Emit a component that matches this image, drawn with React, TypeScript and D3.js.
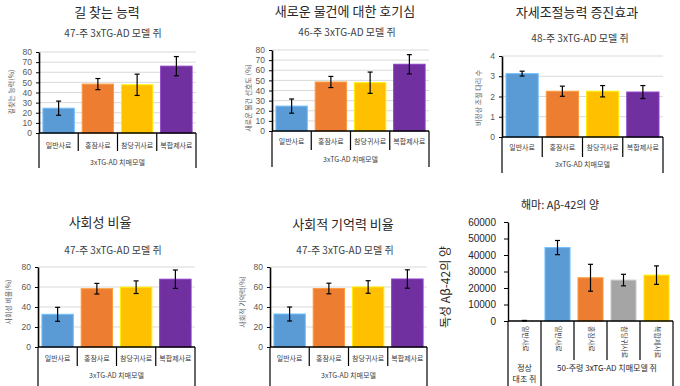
import React, { useEffect, useRef } from 'react';
import * as d3 from 'd3';

// feed groups shared by the behaviour panels
const feedCategories = ['일반사료', '홍잠사료', '참당귀사료', '복합제사료'];
const feedColors = ['#5B9BD5', '#ED7D31', '#FFC000', '#7030A0'];
const modelLabel = '3xTG-AD 치매모델';

const wayfindingValues = [24.5, 48.3, 47.6, 66];
const wayfindingErrors = [7, 5.5, 10.5, 9.5];
const noveltyValues = [24.6, 48.4, 47.7, 65.9];
const noveltyErrors = [7, 5.5, 10.5, 9.5];
const postureValues = [3.13, 2.26, 2.26, 2.22];
const postureErrors = [0.12, 0.25, 0.28, 0.32];
const socialValues = [32.7, 58.3, 59.8, 67.8];
const socialErrors = [7, 5.3, 6.3, 9.2];
const socialMemoryValues = [33, 58.5, 60, 68];
const socialMemoryErrors = [7, 5.3, 6.3, 9.2];

const abetaCategories = ['일반사료', '일반사료', '홍잠사료', '참당귀사료', '복합제사료'];
const abetaValues = [200, 44500, 26200, 24800, 27800];
const abetaErrors = [150, 4300, 8150, 3500, 5600];
const abetaColors = ['#5B9BD5', '#5B9BD5', '#ED7D31', '#A5A5A5', '#FFC000'];

const FONT = '"Noto Sans CJK KR", "Noto Sans", sans-serif';
const NUM_FONT = '"Liberation Sans", Arial, sans-serif';

const panels = [
    {
        title: '길 찾는 능력', titleX: 107, titleY: 13,
        subtitle: '47-주 3xTG-AD 모델 쥐', subX: 113, subY: 34,
        left: 39, right: 196, top: 52, bottom: 133,
        max: 80, ticks: d3.range(0, 81, 10),
        values: wayfindingValues, errors: wayfindingErrors,
        yLabel: '길찾는 능력(%)', yLabelX: 12, yLabelY: 92,
        catY: 146, groupY: 163, innerBottom: 151, outerBottom: 168,
    },
    {
        title: '새로운 물건에 대한 호기심', titleX: 345, titleY: 12,
        subtitle: '46-주 3xTG-AD 모델 쥐', subX: 347, subY: 33,
        left: 272, right: 429, top: 50, bottom: 131,
        max: 80, ticks: d3.range(0, 81, 10),
        values: noveltyValues, errors: noveltyErrors,
        yLabel: '새로운 물건 선호도 (%)', yLabelX: 249, yLabelY: 98,
        catY: 142, groupY: 160, innerBottom: 150, outerBottom: 167,
    },
    {
        title: '자세조절능력 증진효과', titleX: 577, titleY: 13,
        subtitle: '48-주 3xTG-AD 모델 쥐', subX: 580, subY: 39,
        left: 502, right: 663, top: 56, bottom: 137,
        max: 4, ticks: d3.range(0, 5, 1),
        values: postureValues, errors: postureErrors,
        yLabel: '비정상 조절 다리 수', yLabelX: 479, yLabelY: 98,
        catY: 148, groupY: 165, innerBottom: 157, outerBottom: 173,
    },
    {
        title: '사회성 비율', titleX: 100, titleY: 223,
        subtitle: '47-주 3xTG-AD 모델 쥐', subX: 113, subY: 251,
        left: 38, right: 195, top: 267, bottom: 347,
        max: 80, ticks: d3.range(0, 81, 20),
        values: socialValues, errors: socialErrors,
        yLabel: '사회성 비율(%)', yLabelX: 9, yLabelY: 302,
        catY: 359, groupY: 376, innerBottom: 366, outerBottom: 386,
    },
    {
        title: '사회적 기억력 비율', titleX: 343, titleY: 225,
        subtitle: '47-주 3xTG-AD 모델 쥐', subX: 345, subY: 251,
        left: 270, right: 427, top: 267, bottom: 347,
        max: 80, ticks: d3.range(0, 81, 20),
        values: socialMemoryValues, errors: socialMemoryErrors,
        yLabel: '사회적 기억력(%)', yLabelX: 243, yLabelY: 302,
        catY: 359, groupY: 376, innerBottom: 366, outerBottom: 386,
    },
];

function drawBars(g, x, y, cats, values, errors, colors) {
    g.selectAll('.bar')
        .data(values)
        .enter().append('rect')
        .attr('x', (d, i) => x(cats[i] + i))
        .attr('y', d => y(d))
        .attr('width', x.bandwidth())
        .attr('height', d => y(0) - y(d))
        .attr('fill', (d, i) => colors[i])
        .attr('stroke', (d, i) => d3.color(colors[i]).brighter(0.6).formatHex())
        .attr('stroke-width', 1);
    const eb = g.selectAll('.err')
        .data(values)
        .enter().append('g')
        .attr('stroke', '#000')
        .attr('stroke-width', 1.2);
    eb.append('line')
        .attr('x1', (d, i) => x(cats[i] + i) + x.bandwidth() / 2)
        .attr('x2', (d, i) => x(cats[i] + i) + x.bandwidth() / 2)
        .attr('y1', (d, i) => y(d + errors[i]))
        .attr('y2', (d, i) => y(d - errors[i]));
    [1, -1].forEach(s => {
        eb.append('line')
            .attr('x1', (d, i) => x(cats[i] + i) + x.bandwidth() / 2 - 2.5)
            .attr('x2', (d, i) => x(cats[i] + i) + x.bandwidth() / 2 + 2.5)
            .attr('y1', (d, i) => y(d + s * errors[i]))
            .attr('y2', (d, i) => y(d + s * errors[i]));
    });
}

export default function App() {
    const svgRef = useRef();

    useEffect(() => {
        const svg = d3.select(svgRef.current);
        svg.selectAll('*').remove();
        svg.append('rect').attr('width', 680).attr('height', 386).attr('fill', '#fff');

        panels.forEach(p => {
            const g = svg.append('g');
            const keys = feedCategories.map((c, i) => c + i);
            const x = d3.scaleBand().domain(keys).range([p.left, p.right]).paddingInner(0.2).paddingOuter(0.1);
            const y = d3.scaleLinear().domain([0, p.max]).range([p.bottom, p.top]);

            g.append('text').attr('x', p.titleX).attr('y', p.titleY)
                .attr('text-anchor', 'middle').attr('dominant-baseline', 'middle')
                .attr('font-size', 13).attr('fill', '#262626').text(p.title);
            g.append('text').attr('x', p.subX).attr('y', p.subY)
                .attr('text-anchor', 'middle').attr('dominant-baseline', 'middle')
                .attr('font-size', 10).attr('fill', '#404040').text(p.subtitle);

            // gridlines
            g.selectAll('.grid').data(p.ticks.slice(1)).enter().append('line')
                .attr('x1', p.left).attr('x2', p.right)
                .attr('y1', d => y(d)).attr('y2', d => y(d))
                .attr('stroke', '#d9d9d9').attr('stroke-width', 1);

            drawBars(g, x, y, feedCategories, p.values, p.errors, feedColors);

            const ax = g.append('g')
                .attr('transform', `translate(${p.left},0)`)
                .call(d3.axisLeft(y).tickValues(p.ticks).tickFormat(d3.format('d'))
                    .tickSize(3).tickSizeOuter(0).tickPadding(4));
            ax.select('.domain').attr('stroke', '#000').attr('stroke-width', 1.6);
            ax.selectAll('.tick line').attr('stroke', '#000');
            ax.selectAll('.tick text').attr('font-size', 8.5).attr('fill', '#595959').attr('font-family', NUM_FONT);

            g.append('line').attr('x1', p.left).attr('x2', p.right)
                .attr('y1', p.bottom).attr('y2', p.bottom)
                .attr('stroke', '#000').attr('stroke-width', 1.6);

            // category separators (Excel style multi-level axis)
            const step = (p.right - p.left) / feedCategories.length;
            d3.range(feedCategories.length + 1).forEach(i => {
                const outer = i === 0 || i === feedCategories.length;
                g.append('line')
                    .attr('x1', p.left + step * i).attr('x2', p.left + step * i)
                    .attr('y1', p.bottom).attr('y2', outer ? p.outerBottom : p.innerBottom)
                    .attr('stroke', '#000').attr('stroke-width', 1.2);
            });
            g.selectAll('.cat').data(feedCategories).enter().append('text')
                .attr('x', (d, i) => p.left + step * (i + 0.5))
                .attr('y', p.catY)
                .attr('text-anchor', 'middle').attr('dominant-baseline', 'middle')
                .attr('font-size', 7).attr('fill', '#404040').text(d => d);
            g.append('text').attr('x', (p.left + p.right) / 2).attr('y', p.groupY)
                .attr('text-anchor', 'middle').attr('dominant-baseline', 'middle')
                .attr('font-size', 7).attr('fill', '#404040').text(modelLabel);

            g.append('text')
                .attr('transform', `translate(${p.yLabelX},${p.yLabelY}) rotate(-90)`)
                .attr('text-anchor', 'middle').attr('dominant-baseline', 'middle')
                .attr('font-size', 7).attr('fill', '#595959').text(p.yLabel);
        });

        // hippocampus A-beta panel
        const left = 508, right = 673, top = 222, bottom = 321;
        const g = svg.append('g');
        const keys = abetaCategories.map((c, i) => c + i);
        const x = d3.scaleBand().domain(keys).range([left, right]).paddingInner(0.24).paddingOuter(0.12);
        const y = d3.scaleLinear().domain([0, 60000]).range([bottom, top]);

        g.append('text').attr('x', 560).attr('y', 206)
            .attr('text-anchor', 'middle').attr('dominant-baseline', 'middle')
            .attr('font-size', 11).attr('fill', '#262626').text('해마: Aβ-42의 양');

        drawBars(g, x, y, abetaCategories, abetaValues, abetaErrors, abetaColors);
        g.select('rect').attr('fill', 'none').attr('stroke', 'none');

        const ax = g.append('g')
            .attr('transform', `translate(${left},0)`)
            .call(d3.axisLeft(y).tickValues(d3.range(0, 60001, 10000)).tickFormat(d3.format('d'))
                .tickSize(4).tickSizeOuter(0).tickPadding(8));
        ax.select('.domain').attr('stroke', '#000').attr('stroke-width', 1.4);
        ax.selectAll('.tick line').attr('stroke', '#000');
        ax.selectAll('.tick text').attr('font-size', 10).attr('fill', '#262626').attr('font-family', NUM_FONT);

        g.append('line').attr('x1', left).attr('x2', right)
            .attr('y1', bottom).attr('y2', bottom)
            .attr('stroke', '#000').attr('stroke-width', 1.4);

        const step = (right - left) / abetaCategories.length;
        d3.range(abetaCategories.length + 1).forEach(i => {
            const full = i <= 1 || i === abetaCategories.length;
            g.append('line')
                .attr('x1', left + step * i).attr('x2', left + step * i)
                .attr('y1', bottom).attr('y2', full ? 386 : 360)
                .attr('stroke', '#000').attr('stroke-width', 1.2);
        });
        g.selectAll('.cat').data(abetaCategories).enter().append('text')
            .attr('transform', (d, i) => `translate(${left + step * (i + 0.5)},${bottom + 5}) rotate(90)`)
            .attr('text-anchor', 'start').attr('dominant-baseline', 'middle')
            .attr('font-size', 7).attr('fill', '#404040').text(d => d);
        g.append('text').attr('x', left + step / 2).attr('y', 369)
            .attr('text-anchor', 'middle').attr('dominant-baseline', 'middle')
            .attr('font-size', 8).attr('fill', '#262626').text('정상');
        g.append('text').attr('x', left + step / 2).attr('y', 380)
            .attr('text-anchor', 'middle').attr('dominant-baseline', 'middle')
            .attr('font-size', 8).attr('fill', '#262626').text('대조 쥐');
        g.append('text').attr('x', left + step * 3).attr('y', 369)
            .attr('text-anchor', 'middle').attr('dominant-baseline', 'middle')
            .attr('font-size', 8).attr('fill', '#262626').text('50-주령 3xTG-AD 치매모델 쥐');

        g.append('text')
            .attr('transform', 'translate(447,287) rotate(-90)')
            .attr('text-anchor', 'middle').attr('dominant-baseline', 'middle')
            .attr('font-size', 12).attr('fill', '#262626').text('독성 Aβ-42의 양');
    }, []);

    return (
        <div style={{ position: 'absolute', left: 0, top: 0 }}>
            <svg ref={svgRef} width={680} height={386} style={{ display: 'block', fontFamily: FONT }} />
        </div>
    );
}
